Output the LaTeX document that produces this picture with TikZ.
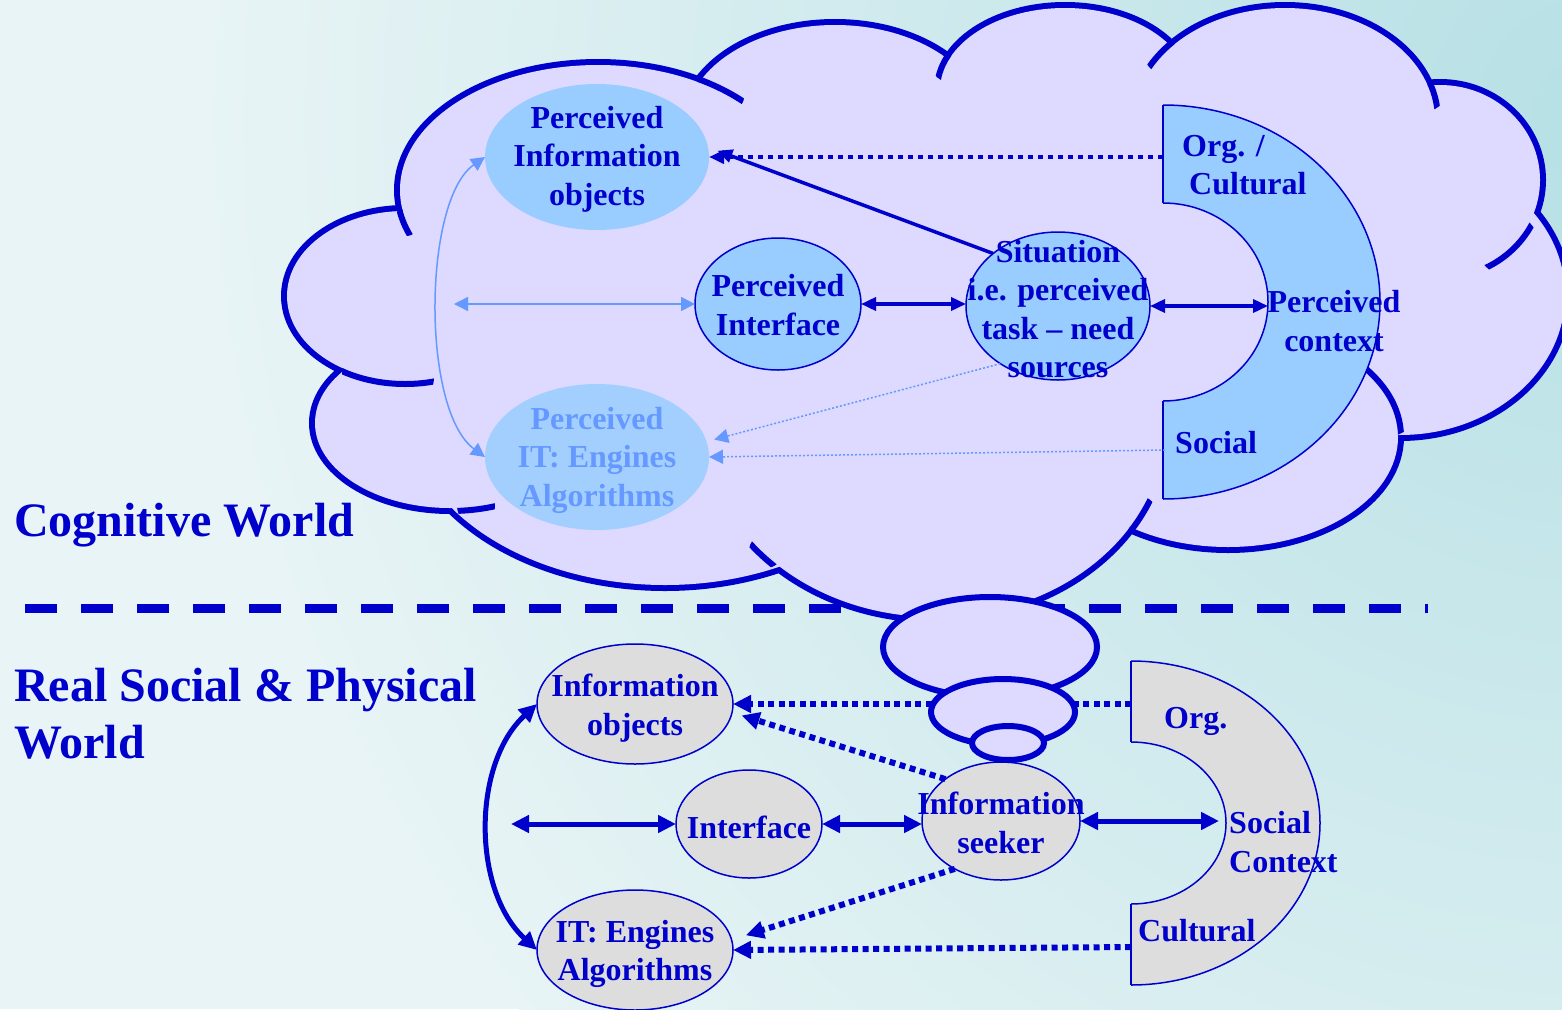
\documentclass[tikz,border=0pt]{standalone}
\usepackage{fontspec}
\setmainfont{Liberation Serif}
\usetikzlibrary{arrows.meta,shapes.geometric}
\definecolor{dblue}{HTML}{0000CC}
\definecolor{lav}{HTML}{DDD9FF}
\definecolor{lblue}{HTML}{99CCFF}
\definecolor{pale}{HTML}{6699FF}
\definecolor{palefill}{HTML}{A3CFFF}
\definecolor{gry}{HTML}{DDDDDD}
\definecolor{bgA}{HTML}{E8F4F5}
\definecolor{bgB}{HTML}{B6E0E5}
\tikzset{
  txt/.style={text=dblue, font=\fontsize{32}{38.5}\selectfont\bfseries, align=center, inner sep=0pt},
  bigtxt/.style={text=dblue, font=\fontsize{48}{57}\selectfont\bfseries, align=left, inner sep=0pt},
  ell/.style={ellipse, inner sep=0pt, outer sep=0pt},
  upnode/.style={ell, fill=lblue},
  upnodeb/.style={ell, fill=lblue, draw=dblue, line width=1.5pt},
  lownode/.style={ell, fill=gry, draw=dblue, line width=1.5pt},
  cloudstroke/.style={draw=dblue, line width=12pt},
  cloudfill/.style={fill=lav},
  cloudtail/.style={draw=dblue, line width=6pt},
  bubble/.style={fill=lav, draw=dblue, line width=6pt},
  ringedge/.style={draw=dblue, line width=1.5pt},
  tipup/.style={-{Triangle[length=15pt,width=13pt]}},
  tipupboth/.style={{Triangle[length=15pt,width=13pt]}-{Triangle[length=15pt,width=13pt]}},
  tiplow/.style={-{Triangle[length=18pt,width=17pt]}},
  tiplowboth/.style={{Triangle[length=18pt,width=17pt]}-{Triangle[length=18pt,width=17pt]}},
  tiplight/.style={-{Triangle[length=14pt,width=14pt]}},
  tiplightboth/.style={{Triangle[length=14pt,width=14pt]}-{Triangle[length=14pt,width=14pt]}},
  solidup/.style={draw=dblue, line width=3.5pt},
  dotup/.style={draw=dblue, line width=4pt, dash pattern=on 5.5pt off 4.5pt},
  thicklow/.style={draw=dblue, line width=5pt},
  dotlow/.style={draw=dblue, line width=6pt, dash pattern=on 6pt off 4.5pt},
  lightline/.style={draw=pale, line width=1.5pt},
  lightdot/.style={draw=pale, line width=1.5pt, dash pattern=on 2pt off 2pt},
}
\begin{document}
\begin{tikzpicture}[x=1pt,y=-1pt]
\useasboundingbox (0,0) rectangle (1562,1009);
\clip (0,0) rectangle (1562,1009);
% background
\fill[bgA] (0,0) rectangle (1562,1009);
\shade[inner color=bgB, outer color=bgA] (1600,120) circle[radius=1400];
% dividing line
\draw[draw=dblue, line width=9pt, dash pattern=on 32pt off 24pt] (25,608) -- (1428,608);
% cloud outline
\foreach \cx/\cy/\rx/\ry in {598/190/198/125, 835/125/150/100, 1065/90/125/82, 1285/120/150/112, 1440/180/100/95, 1400/295/165/140, 1228/437/170/110, 935/425/230/192, 665/405/260/180, 450/423/135/85, 405/296/118/85}
  \path[cloudstroke] (\cx,\cy) ellipse[x radius=\rx, y radius=\ry];
\foreach \cx/\cy/\rx/\ry in {598/190/198/125, 835/125/150/100, 1065/90/125/82, 1285/120/150/112, 1440/180/100/95, 1400/295/165/140, 1228/437/170/110, 935/425/230/192, 665/405/260/180, 450/423/135/85, 405/296/118/85, 900/300/500/200}
  \path[cloudfill] (\cx,\cy) ellipse[x radius=\rx, y radius=\ry];
% cloud inner tails
\foreach \px/\py/\r/\cx/\cy/\rx/\ry in {406/222/14/598/190/201/128, 388/376/46/405/296/121/88, 476/506/19/450/423/138/88, 766/551/17/935/425/233/195, 1139/514/18/935/425/233/195, 1385/400/37/1228/437/173/113, 1508/245/31/1440/180/103/98, 1430/97/13/1285/120/153/115, 1162/56/17/1285/120/153/115, 946/68/13/1065/90/128/85, 720/92/25/598/190/201/128}
  {\begin{scope}
   \clip (\px,\py) circle[radius=\r];
   \path[cloudtail] (\cx,\cy) ellipse[x radius=\rx, y radius=\ry];
   \end{scope}}
% upper context ring
\begin{scope}
  \clip (1163,0) rectangle (1600,560);
  \fill[lblue, even odd rule] (1163,302) ellipse[x radius=217, y radius=197] (1163,302) ellipse[x radius=105, y radius=99];
  \path[ringedge] (1163,302) ellipse[x radius=217, y radius=197] (1163,302) ellipse[x radius=105, y radius=99];
\end{scope}
\path[ringedge] (1163,105) -- (1163,203) (1163,401) -- (1163,499);
\coordinate (orgc) at (1163,157);
\coordinate (ctxin) at (1268,302);
\coordinate (socl) at (1165,450);
\coordinate (lfree) at (454,304);
% upper nodes
\node[upnode, minimum width=224pt, minimum height=146pt] (pio) at (597,157) {};
\node[upnodeb, minimum width=166pt, minimum height=132pt] (pint) at (778,304) {};
\node[upnodeb, minimum width=184pt, minimum height=148pt] (sit) at (1058,306) {};
\node[ell, fill=palefill, minimum width=224pt, minimum height=146pt] (pit) at (597,457) {};
\node[txt] (pio-t) at (597,159) {Perceived\\Information\\objects};
\node[txt] (pint-t) at (778,305) {Perceived\\Interface};
\node[txt] (sit-t) at (1058,309) {Situation\\i.e. perceived\\task -- need\\sources};
\node[txt, text=pale] (pit-t) at (597,460) {Perceived\\IT: Engines\\Algorithms};
\node[txt, align=left, anchor=west] (org-t) at (1182,165) {Org. /\\\hspace*{7pt}Cultural};
\node[txt] (ctx-t) at (1334,321) {Perceived\\context};
\node[txt, anchor=west] (soc-t) at (1175,443) {Social};
% upper connectors
\draw[dotup, tipup] (orgc) -- (pio.east);
\draw[solidup, tipup, shorten >=10pt] (sit.141) -- (pio.5);
\draw[solidup, tipupboth] (pint.east) -- (pint.east -| sit.west);
\draw[solidup, tipupboth] (sit.east) -- (sit.east -| ctxin);
\draw[lightline, tiplightboth] (lfree) -- (pint.west);
\draw[lightline, tiplightboth] (pio.west) .. controls +(-62,43) and +(-64,-47) .. (pit.west);
\draw[lightdot, tiplight, shorten >=8pt] (sit.225) -- (pit.8);
\draw[lightdot, tiplight] (socl) -- (pit.east);
% lower context ring
\begin{scope}
  \clip (1131,640) rectangle (1600,1009);
  \fill[gry, even odd rule] (1131,823) ellipse[x radius=189, y radius=162] (1131,823) ellipse[x radius=95, y radius=81];
  \path[ringedge] (1131,823) ellipse[x radius=189, y radius=162] (1131,823) ellipse[x radius=95, y radius=81];
\end{scope}
\path[ringedge] (1131,661) -- (1131,742) (1131,904) -- (1131,985);
\coordinate (ring2org) at (1131,704);
\coordinate (cult) at (1131,947);
\coordinate (sctx) at (1219,822);
\coordinate (lfree2) at (511,824);
% lower nodes
\node[lownode, minimum width=196pt, minimum height=120pt] (iob) at (635,704) {};
\node[lownode, minimum width=146pt, minimum height=108pt] (ifc) at (749,824) {};
\node[lownode, minimum width=158pt, minimum height=118pt] (seek) at (1001,821) {};
\node[lownode, minimum width=196pt, minimum height=120pt] (itb) at (635,950) {};
% dotted line hidden partly by bubbles
\draw[dotlow, tiplow] (ring2org) -- (iob.east);
% thought bubbles
\path[bubble] (990,647) ellipse[x radius=107, y radius=50];
\path[bubble] (1003,712) ellipse[x radius=72, y radius=33];
\path[bubble] (1008,743) ellipse[x radius=36, y radius=17];
% lower texts
\node[txt] (iob-t) at (635,708) {Information\\objects};
\node[txt] (ifc-t) at (749,827) {Interface};
\node[txt] (seek-t) at (1001,823) {Information\\seeker};
\node[txt] (itb-t) at (635,954) {IT: Engines\\Algorithms};
\node[txt, anchor=west] (org2-t) at (1164,721) {Org.};
\node[txt, align=left, anchor=west] (sctx-t) at (1229,842) {Social\\Context};
\node[txt, anchor=west] (cult-t) at (1138,931) {Cultural};
% lower connectors
\draw[dotlow, tiplow, shorten >=10pt] (seek.143) -- (iob.-5);
\draw[dotlow, tiplow, shorten >=15pt] (seek.226) -- (itb.6);
\draw[dotlow, tiplow] (cult) -- (itb.east);
\draw[thicklow, tiplowboth] (iob.west) .. controls +(-65,60) and +(-65,-60) .. (itb.west);
\draw[thicklow, tiplowboth] (lfree2) -- (ifc.west);
\draw[thicklow, tiplowboth] (ifc.east) -- (ifc.east -| seek.west);
\draw[thicklow, tiplowboth] (seek.east) -- (seek.east -| sctx);
% world labels
\node[bigtxt, anchor=base west] (cog) at (14,536) {Cognitive World};
\node[bigtxt, anchor=west] (real) at (14,714) {Real Social \& Physical\\World};
\end{tikzpicture}
\end{document}
